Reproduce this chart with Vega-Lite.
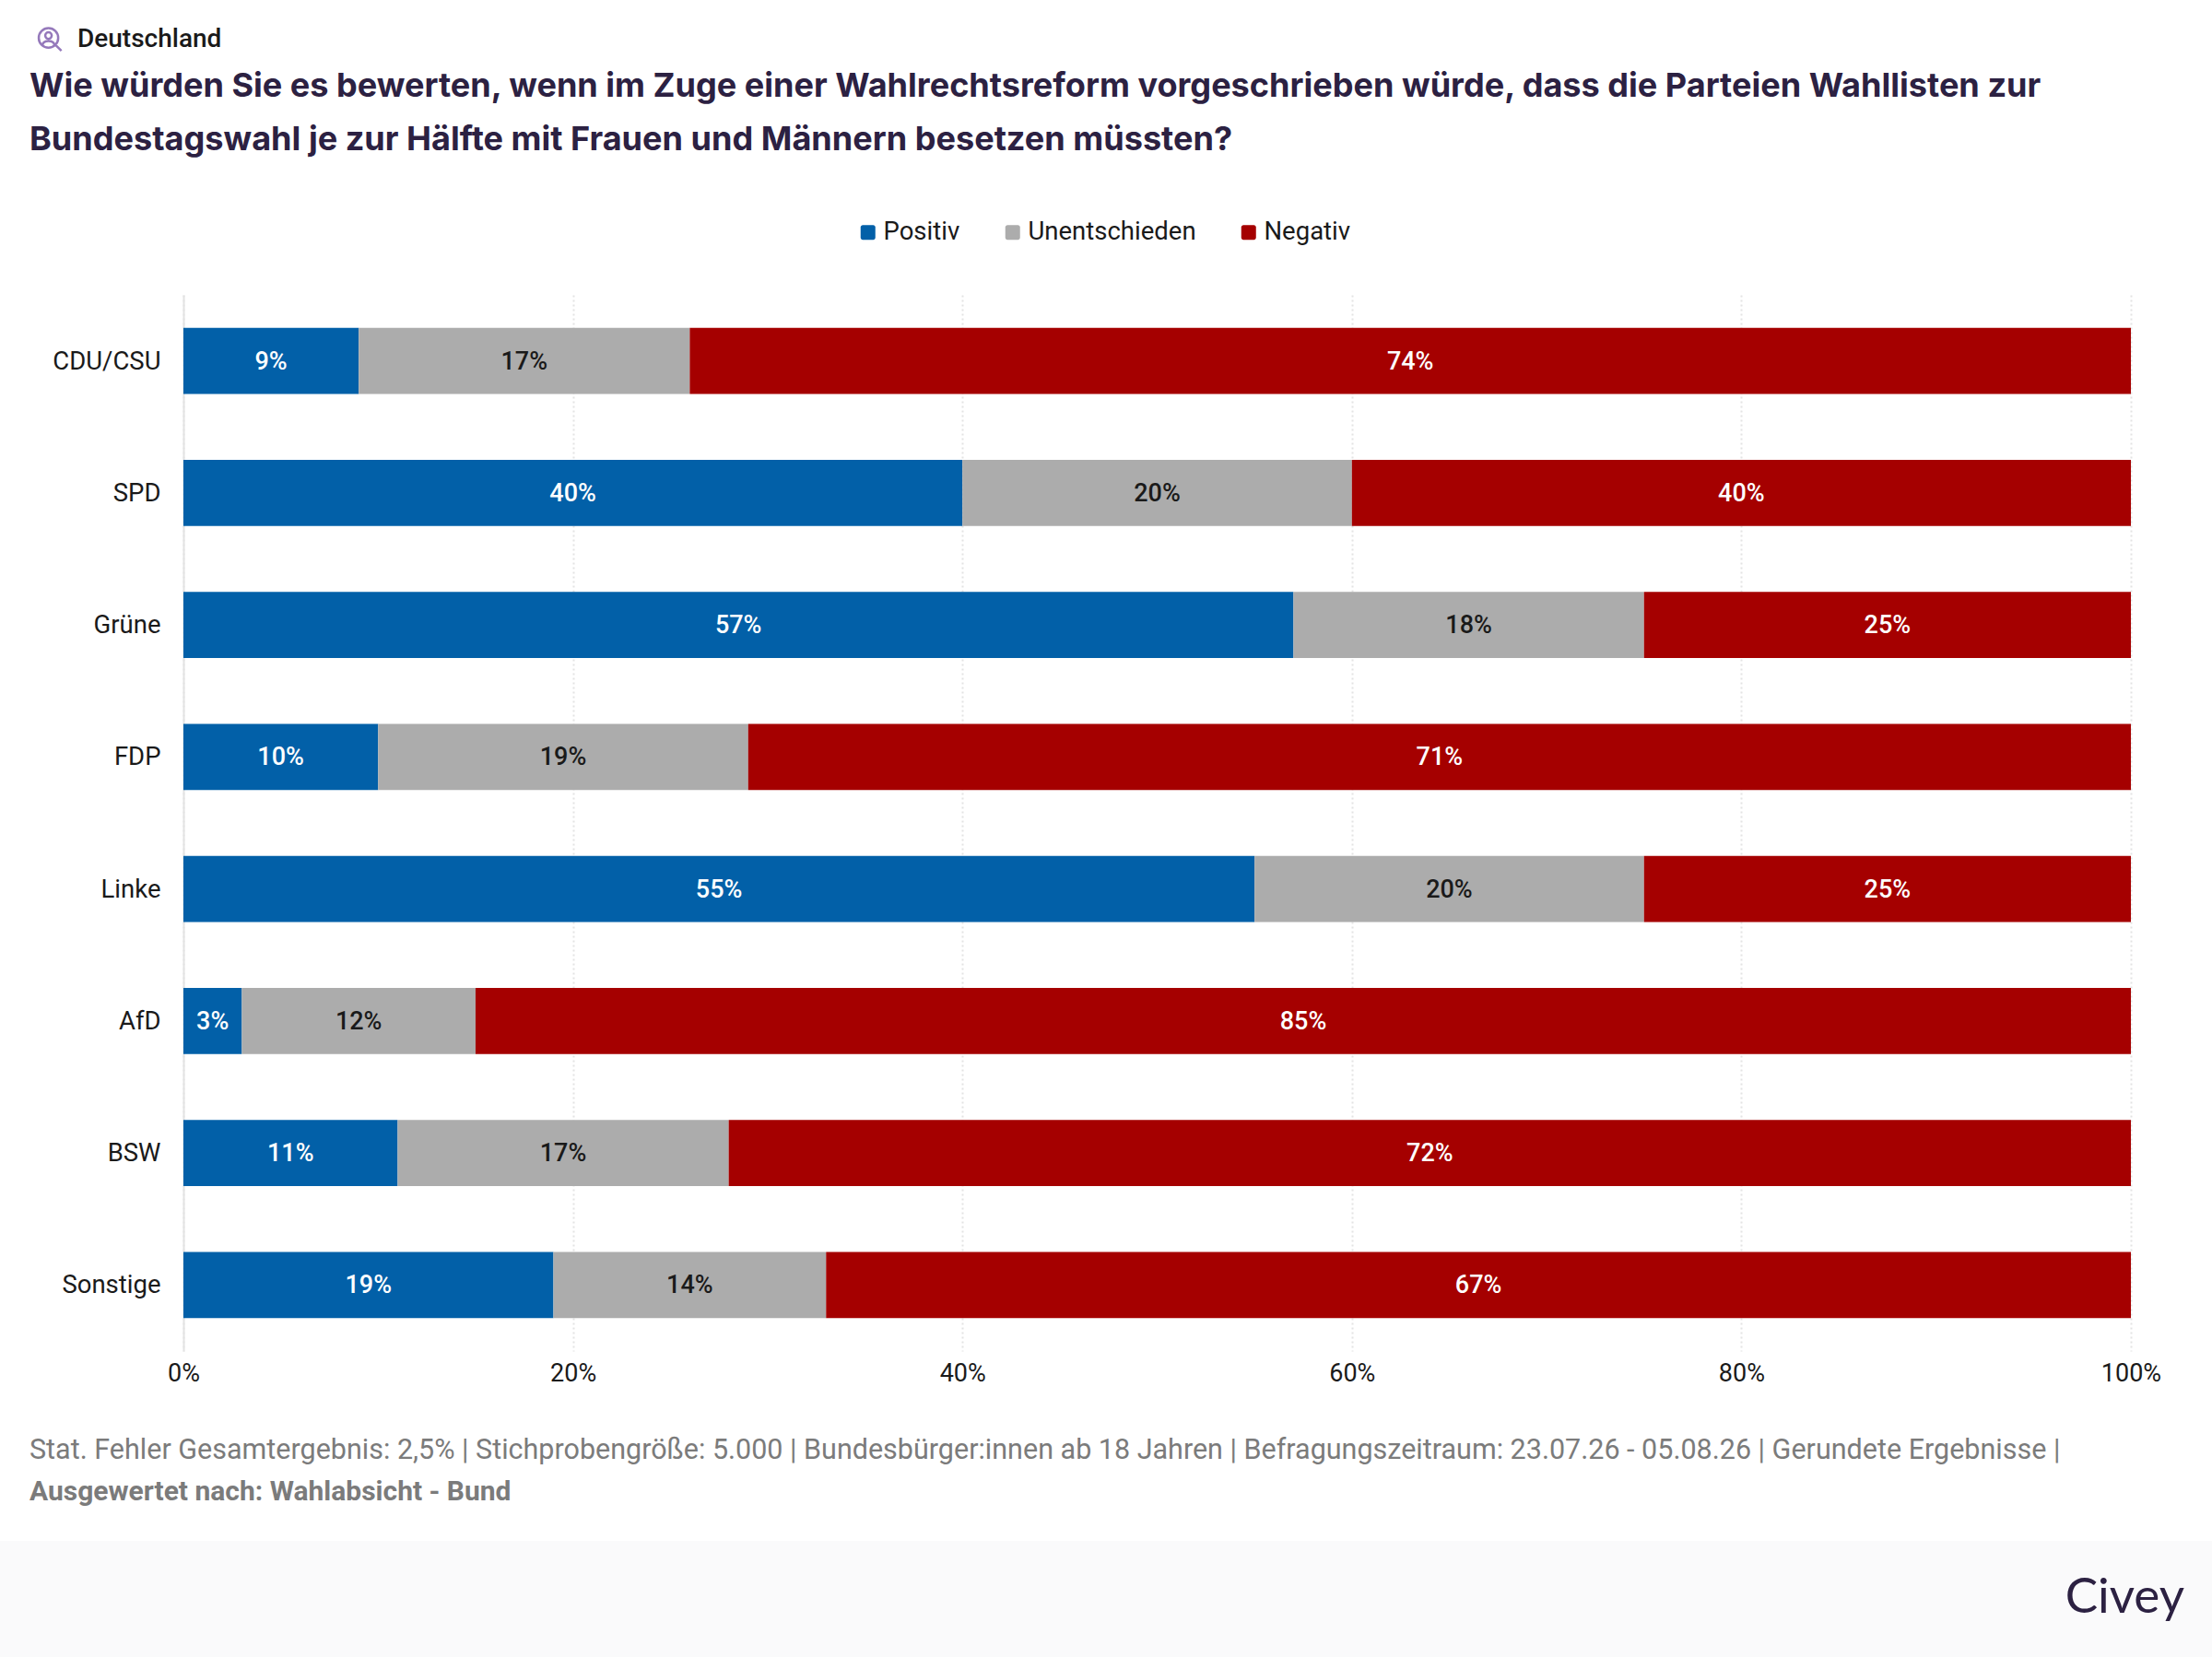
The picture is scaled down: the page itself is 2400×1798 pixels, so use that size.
{
  "$schema": "https://vega.github.io/schema/vega-lite/v6.json",
  "autosize": {"type": "none"},
  "padding": {"left": 199, "top": 320, "right": 88, "bottom": 332},
  "width": 2113,
  "height": 1146,
  "background": "#ffffff",
  "config": {
    "view": {"stroke": null},
    "font": "Roboto"
  },
  "title": {
    "text": [
      "Wie würden Sie es bewerten, wenn im Zuge einer Wahlrechtsreform vorgeschrieben würde, dass die Parteien Wahllisten zur",
      "Bundestagswahl je zur Hälfte mit Frauen und Männern besetzen müssten?"
    ],
    "anchor": "start",
    "frame": "group",
    "dx": -167,
    "dy": 144,
    "offset": 0,
    "font": "Inter",
    "fontSize": 36.1,
    "fontWeight": 700,
    "lineHeight": 58,
    "color": "#2c2142"
  },
  "datasets": {
    "ergebnisse": [
      {"partei": "CDU/CSU", "antwort": "Positiv", "rang": 1, "anteil": 0.09},
      {"partei": "CDU/CSU", "antwort": "Unentschieden", "rang": 2, "anteil": 0.17},
      {"partei": "CDU/CSU", "antwort": "Negativ", "rang": 3, "anteil": 0.74},
      {"partei": "SPD", "antwort": "Positiv", "rang": 1, "anteil": 0.40},
      {"partei": "SPD", "antwort": "Unentschieden", "rang": 2, "anteil": 0.20},
      {"partei": "SPD", "antwort": "Negativ", "rang": 3, "anteil": 0.40},
      {"partei": "Grüne", "antwort": "Positiv", "rang": 1, "anteil": 0.57},
      {"partei": "Grüne", "antwort": "Unentschieden", "rang": 2, "anteil": 0.18},
      {"partei": "Grüne", "antwort": "Negativ", "rang": 3, "anteil": 0.25},
      {"partei": "FDP", "antwort": "Positiv", "rang": 1, "anteil": 0.10},
      {"partei": "FDP", "antwort": "Unentschieden", "rang": 2, "anteil": 0.19},
      {"partei": "FDP", "antwort": "Negativ", "rang": 3, "anteil": 0.71},
      {"partei": "Linke", "antwort": "Positiv", "rang": 1, "anteil": 0.55},
      {"partei": "Linke", "antwort": "Unentschieden", "rang": 2, "anteil": 0.20},
      {"partei": "Linke", "antwort": "Negativ", "rang": 3, "anteil": 0.25},
      {"partei": "AfD", "antwort": "Positiv", "rang": 1, "anteil": 0.03},
      {"partei": "AfD", "antwort": "Unentschieden", "rang": 2, "anteil": 0.12},
      {"partei": "AfD", "antwort": "Negativ", "rang": 3, "anteil": 0.85},
      {"partei": "BSW", "antwort": "Positiv", "rang": 1, "anteil": 0.11},
      {"partei": "BSW", "antwort": "Unentschieden", "rang": 2, "anteil": 0.17},
      {"partei": "BSW", "antwort": "Negativ", "rang": 3, "anteil": 0.72},
      {"partei": "Sonstige", "antwort": "Positiv", "rang": 1, "anteil": 0.19},
      {"partei": "Sonstige", "antwort": "Unentschieden", "rang": 2, "anteil": 0.14},
      {"partei": "Sonstige", "antwort": "Negativ", "rang": 3, "anteil": 0.67}
    ]
  },
  "resolve": {"scale": {"y": "independent"}},
  "layer": [
    {
      "data": {"values": [{"bereich": "Fußzeile"}]},
      "mark": {"type": "rect", "fill": "#fafafb"},
      "encoding": {
        "x": {
          "datum": -0.09418,
          "type": "quantitative",
          "title": null,
          "scale": {"domain": [0, 1], "nice": false},
          "axis": {
            "values": [0, 0.2, 0.4, 0.6, 0.8, 1],
            "format": ".0%",
            "domain": false,
            "ticks": false,
            "grid": true,
            "gridColor": "#e3e3e3",
            "gridDash": [2, 3],
            "gridWidth": 2,
            "labelFont": "Roboto",
            "labelFontSize": 27,
            "labelColor": "#1a1a1a",
            "labelPadding": 11,
            "labelFlush": false
          }
        },
        "x2": {"datum": 1.04165},
        "y": {"datum": -0.1798, "type": "quantitative", "axis": null, "scale": {"domain": [0, 1], "nice": false}},
        "y2": {"datum": -0.2897}
      }
    },
    {
      "data": {"name": "ergebnisse"},
      "layer": [
        {
          "mark": {"type": "bar"},
          "encoding": {
            "y": {
              "field": "partei",
              "type": "nominal",
              "sort": null,
              "title": null,
              "scale": {
                "domain": ["CDU/CSU", "SPD", "Grüne", "FDP", "Linke", "AfD", "BSW", "Sonstige"],
                "paddingInner": 0.5,
                "paddingOuter": 0.25
              },
              "axis": {
                "domain": true,
                "domainColor": "#e3e3e3",
                "domainWidth": 2,
                "ticks": false,
                "labelFont": "Roboto",
                "labelFontSize": 27.5,
                "labelColor": "#1a1a1a",
                "labelPadding": 25,
                "labelOffset": 1
              }
            },
            "x": {
              "field": "anteil",
              "type": "quantitative",
              "stack": "zero",
              "title": null
            },
            "color": {
              "field": "antwort",
              "type": "nominal",
              "title": null,
              "scale": {
                "domain": ["Positiv", "Unentschieden", "Negativ"],
                "range": ["#0260a8", "#acacac", "#a50000"]
              },
              "legend": {
                "orient": "none",
                "direction": "horizontal",
                "columns": 3,
                "columnPadding": 43,
                "legendX": 729,
                "legendY": -82,
                "symbolType": "M-0.7,-1H0.7A0.3,0.3 0 0 1 1,-0.7V0.7A0.3,0.3 0 0 1 0.7,1H-0.7A0.3,0.3 0 0 1 -1,0.7V-0.7A0.3,0.3 0 0 1 -0.7,-1Z",
                "symbolSize": 256,
                "symbolStrokeWidth": 0,
                "labelFont": "Roboto",
                "labelFontSize": 27.5,
                "labelColor": "#1a1a1a",
                "labelOffset": 3,
                "labelLimit": 400
              }
            },
            "order": {"field": "rang"}
          }
        },
        {
          "mark": {"type": "text", "font": "Roboto", "fontSize": 27, "fontWeight": 500, "dy": 1},
          "encoding": {
            "y": {"field": "partei", "type": "nominal", "sort": null},
            "x": {"field": "anteil", "type": "quantitative", "stack": "zero", "bandPosition": 0.5},
            "detail": {"field": "antwort"},
            "order": {"field": "rang"},
            "text": {"field": "anteil", "type": "quantitative", "format": ".0%"},
            "color": {
              "condition": {"test": "datum.antwort === 'Unentschieden'", "value": "#1a1a1a"},
              "value": "#ffffff"
            }
          }
        }
      ]
    },
    {
      "data": {"values": [{"text": "Deutschland"}]},
      "mark": {"type": "text", "font": "Roboto", "fontSize": 28, "fontWeight": 500, "align": "left", "color": "#1a1a1a"},
      "encoding": {
        "x": {"datum": -0.05442, "type": "quantitative"},
        "y": {"datum": 1.2421, "type": "quantitative", "axis": null, "scale": {"domain": [0, 1], "nice": false}},
        "text": {"field": "text"}
      }
    },
    {
      "data": {"values": [{"symbol": "Lupe"}]},
      "mark": {
        "type": "point",
        "shape": "M0.65,-0.1A0.75,0.75 0 1 1 -0.85,-0.1A0.75,0.75 0 1 1 0.65,-0.1ZM0.15,-0.28A0.25,0.25 0 1 1 -0.35,-0.28A0.25,0.25 0 1 1 0.15,-0.28ZM-0.55,0.4C-0.45,0.05 0.25,0.05 0.35,0.4M0.45,0.45L0.9,0.9",
        "filled": false,
        "stroke": "#9579bb",
        "strokeWidth": 2.5,
        "size": 790,
        "opacity": 1
      },
      "encoding": {
        "x": {"datum": -0.06862, "type": "quantitative"},
        "y": {"datum": 1.2421, "type": "quantitative", "axis": null, "scale": {"domain": [0, 1], "nice": false}}
      }
    },
    {
      "data": {"values": [{"text": "Stat. Fehler Gesamtergebnis: 2,5% | Stichprobengröße: 5.000 | Bundesbürger:innen ab 18 Jahren | Befragungszeitraum: 23.07.26 - 05.08.26 | Gerundete Ergebnisse |"}]},
      "mark": {"type": "text", "font": "Roboto", "fontSize": 30.5, "align": "left", "color": "#7b7b7b"},
      "encoding": {
        "x": {"datum": -0.07903, "type": "quantitative"},
        "y": {"datum": -0.0942, "type": "quantitative", "axis": null, "scale": {"domain": [0, 1], "nice": false}},
        "text": {"field": "text"}
      }
    },
    {
      "data": {"values": [{"text": "Ausgewertet nach: Wahlabsicht - Bund"}]},
      "mark": {"type": "text", "font": "Roboto", "fontSize": 30, "fontWeight": 700, "align": "left", "color": "#7b7b7b"},
      "encoding": {
        "x": {"datum": -0.07903, "type": "quantitative"},
        "y": {"datum": -0.1335, "type": "quantitative", "axis": null, "scale": {"domain": [0, 1], "nice": false}},
        "text": {"field": "text"}
      }
    },
    {
      "data": {"values": [{"text": "Civey"}]},
      "mark": {"type": "text", "font": "Lato", "fontSize": 53, "align": "right", "color": "#2c2142"},
      "encoding": {
        "x": {"datum": 1.02745, "type": "quantitative"},
        "y": {"datum": -0.2342, "type": "quantitative", "axis": null, "scale": {"domain": [0, 1], "nice": false}},
        "text": {"field": "text"}
      }
    }
  ]
}
